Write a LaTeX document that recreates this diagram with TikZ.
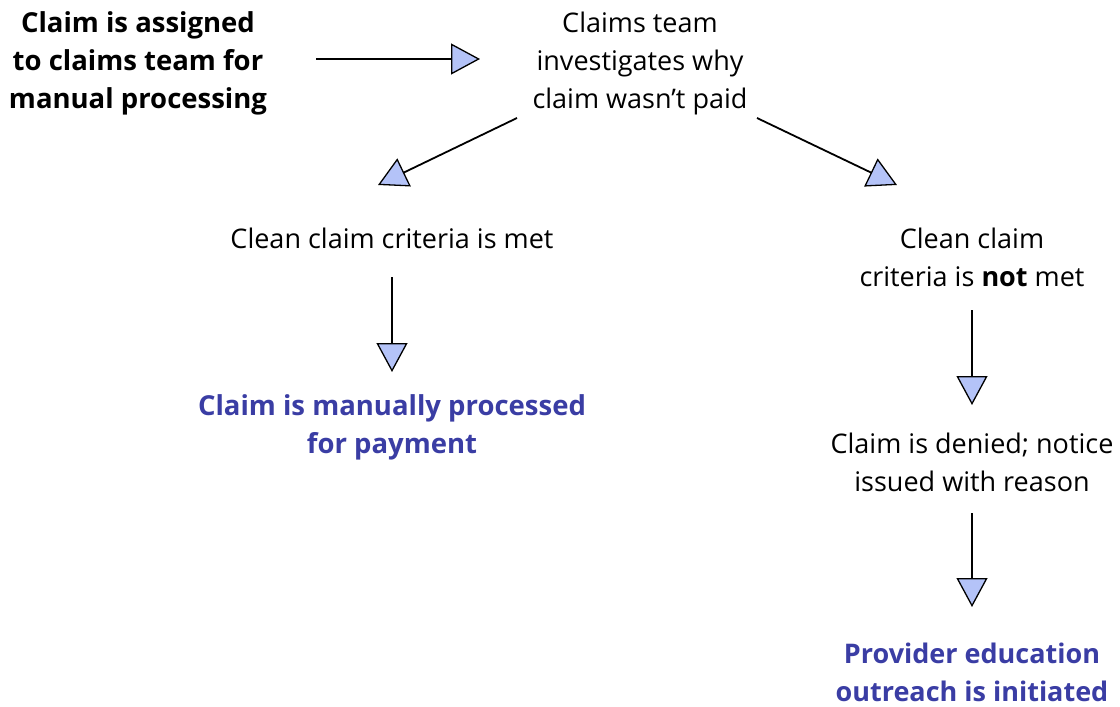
\documentclass[tikz,border=0pt]{standalone}
\usepackage{fontspec}
\setmainfont{Open Sans}
\usetikzlibrary{arrows.meta}
\definecolor{outblue}{HTML}{3A3DA4}
\definecolor{headblue}{HTML}{B4C3F8}
\tikzset{
  txt/.style={align=center, inner sep=0pt, font=\fontsize{27}{38}\selectfont},
  bold/.style={txt, font=\fontsize{27.5}{38}\selectfont\bfseries},
  outcome/.style={bold, text=outblue},
  arr/.style={line width=1.8pt, -{Triangle[length=29pt,width=31pt,fill=headblue,line width=1.3pt]}}
}
\begin{document}
\begin{tikzpicture}[x=1pt,y=-1pt]
\useasboundingbox (0,0) rectangle (1120,707);
\node[bold] (A) at (138,63) {Claim is assigned\\to claims team for\\manual processing};
\node[txt] (B) at (640,63) {Claims team\\investigates why\\claim wasn’t paid};
\node[txt] (C) at (392,238) {Clean claim criteria is met};
\node[txt] (D) at (972,257) {Clean claim\\criteria is \textbf{not} met};
\node[outcome] (E) at (392,427) {Claim is manually processed\\for payment};
\node[txt] (F) at (972,462) {Claim is denied; notice\\issued with reason};
\node[outcome, font=\fontsize{27}{38}\selectfont\bfseries] (G) at (972,672) {Provider education\\outreach is initiated};
\coordinate (a1) at (316,59); \coordinate (b1) at (480,59);
\coordinate (b2) at (517,118); \coordinate (c2) at (378,185);
\coordinate (b3) at (757,118); \coordinate (d3) at (897,185);
\coordinate (c4) at (392,277); \coordinate (e4) at (392,372);
\coordinate (d5) at (972,310); \coordinate (f5) at (972,405);
\coordinate (f6) at (972,513); \coordinate (g6) at (972,607);
\draw[arr] (a1) -- (b1);
\draw[arr] (b2) -- (c2);
\draw[arr] (b3) -- (d3);
\draw[arr] (c4) -- (e4);
\draw[arr] (d5) -- (f5);
\draw[arr] (f6) -- (g6);
\end{tikzpicture}
\end{document}
